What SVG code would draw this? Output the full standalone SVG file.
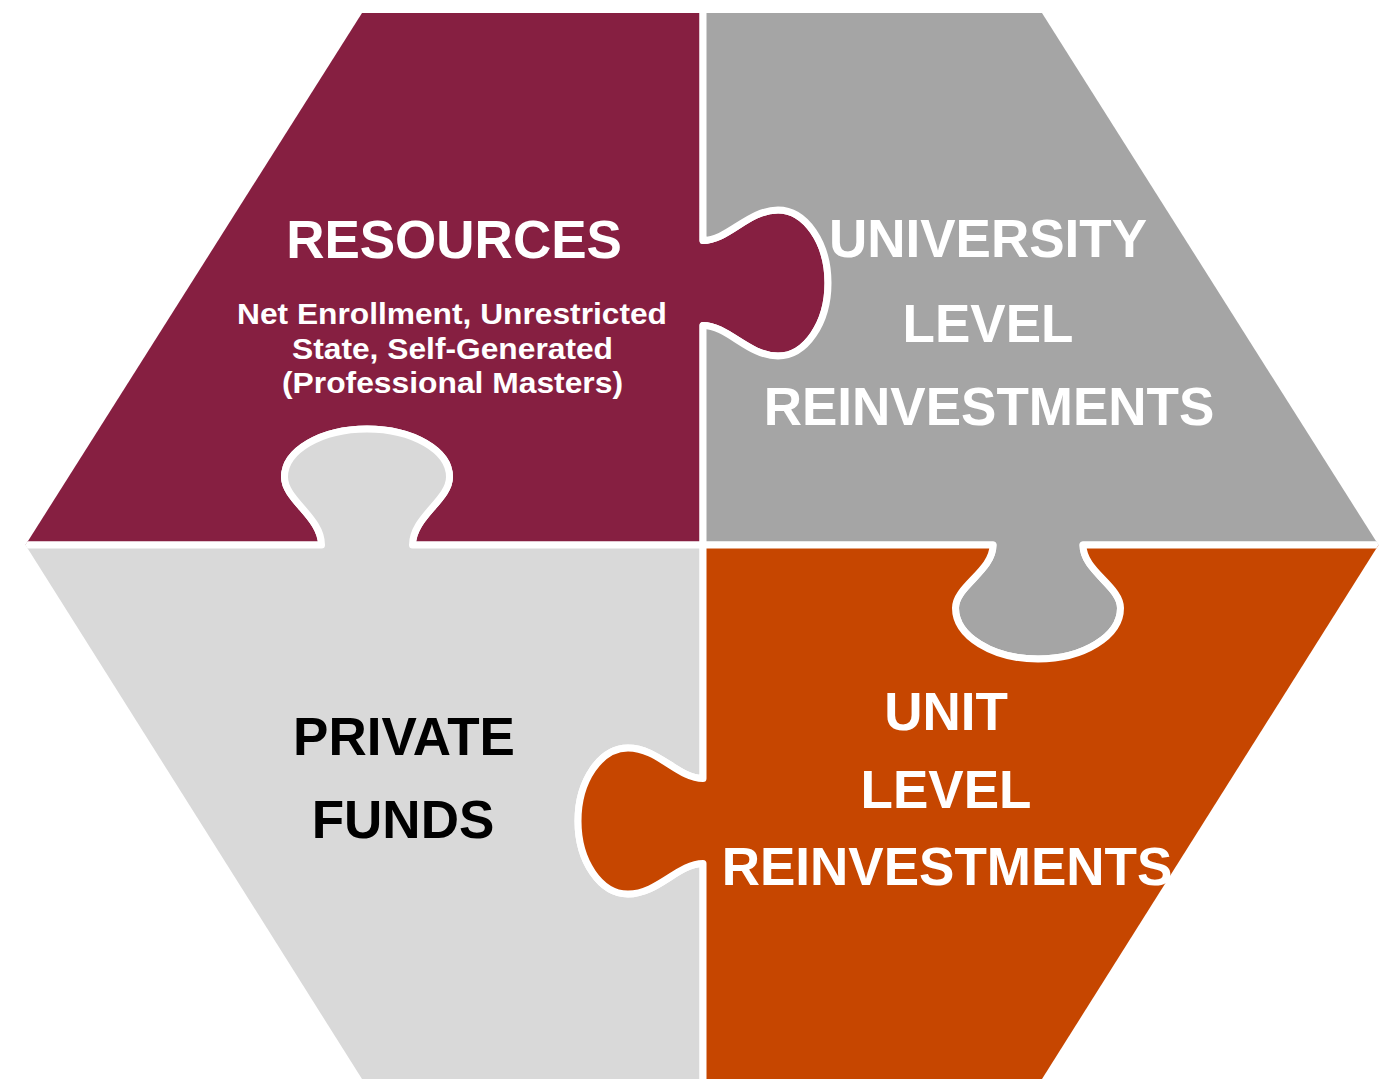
<svg xmlns="http://www.w3.org/2000/svg" width="1383" height="1088" viewBox="0 0 1383 1088">
  <defs>
    <clipPath id="hex">
      <polygon points="362,13 1042,13 1378.5,545 1042,1079 362,1079 25.5,545"/>
    </clipPath>
    <style>
      .piece { stroke: #FFFFFF; stroke-width: 7; stroke-linejoin: round; }
      .title { font-family: "Liberation Sans", Arial, sans-serif; font-weight: bold; font-size: 53px; text-anchor: middle; }
      .sub { font-family: "Liberation Sans", Arial, sans-serif; font-weight: bold; font-size: 29.5px; text-anchor: middle; fill: #FFFFFF; }
      .w { fill: #FFFFFF; }
      .k { fill: #000000; }
    </style>
  </defs>
  <rect width="1383" height="1088" fill="#FFFFFF"/>
  <g clip-path="url(#hex)">
    <g id="resources-shape">
      <path class="piece" fill="#861F41" d="M0,0 L703,0 L703,240.5 C728,240.5 748,210 778,210 C805.6,210 828,242.7 828,283 C828,323.3 805.6,356 778,356 C748,356 728,325.5 703,325.5 L703,545 L412.5,545 C412.5,517 449.5,500 449.5,477 C449.5,450.5 412.6,429 367,429 C321.4,429 284.5,450.5 284.5,477 C284.5,500 321.5,517 321.5,545 L0,545 Z"/>
    </g>
    <g id="university-shape">
      <path class="piece" fill="#A5A5A5" d="M703,0 L1383,0 L1383,545 L1083,545 C1083,571 1120.5,586 1120.5,608 C1120.5,636 1083.6,659 1038,659 C992.4,659 955.5,636 955.5,608 C955.5,586 993,571 993,545 L703,545 L703,325.5 C728,325.5 748,356 778,356 C805.6,356 828,323.3 828,283 C828,242.7 805.6,210 778,210 C748,210 728,240.5 703,240.5 Z"/>
    </g>
    <g id="private-shape">
      <path class="piece" fill="#D9D9D9" d="M0,545 L321.5,545 C321.5,517 284.5,500 284.5,477 C284.5,450.5 321.4,429 367,429 C412.6,429 449.5,450.5 449.5,477 C449.5,500 412.5,517 412.5,545 L703,545 L703,778.5 C678,778.5 658,748 628,748 C600.4,748 578,780.7 578,821 C578,861.3 600.4,894 628,894 C658,894 678,863.5 703,863.5 L703,1088 L0,1088 Z"/>
    </g>
    <g id="unit-shape">
      <path class="piece" fill="#C64600" d="M703,545 L993,545 C993,571 955.5,586 955.5,608 C955.5,636 992.4,659 1038,659 C1083.6,659 1120.5,636 1120.5,608 C1120.5,586 1083,571 1083,545 L1383,545 L1383,1088 L703,1088 L703,863.5 C678,863.5 658,894 628,894 C600.4,894 578,861.3 578,821 C578,780.7 600.4,748 628,748 C658,748 678,778.5 703,778.5 Z"/>
    </g>
  </g>
  <g id="resources">
    <text class="title w" x="454" y="258">RESOURCES</text>
    <text class="sub" x="452" y="323.5" textLength="430" lengthAdjust="spacingAndGlyphs">Net Enrollment, Unrestricted</text>
    <text class="sub" x="452.5" y="358.5" textLength="321" lengthAdjust="spacingAndGlyphs">State, Self-Generated</text>
    <text class="sub" x="452.5" y="393" textLength="341" lengthAdjust="spacingAndGlyphs">(Professional Masters)</text>
  </g>
  <g id="university">
    <text class="title w" x="988" y="257">UNIVERSITY</text>
    <text class="title w" x="988" y="342">LEVEL</text>
    <text class="title w" x="989" y="425">REINVESTMENTS</text>
  </g>
  <g id="private">
    <text class="title k" x="404" y="755">PRIVATE</text>
    <text class="title k" x="403" y="838">FUNDS</text>
  </g>
  <g id="unit">
    <text class="title w" x="946" y="730">UNIT</text>
    <text class="title w" x="946" y="808">LEVEL</text>
    <text class="title w" x="947" y="885">REINVESTMENTS</text>
  </g>
</svg>
